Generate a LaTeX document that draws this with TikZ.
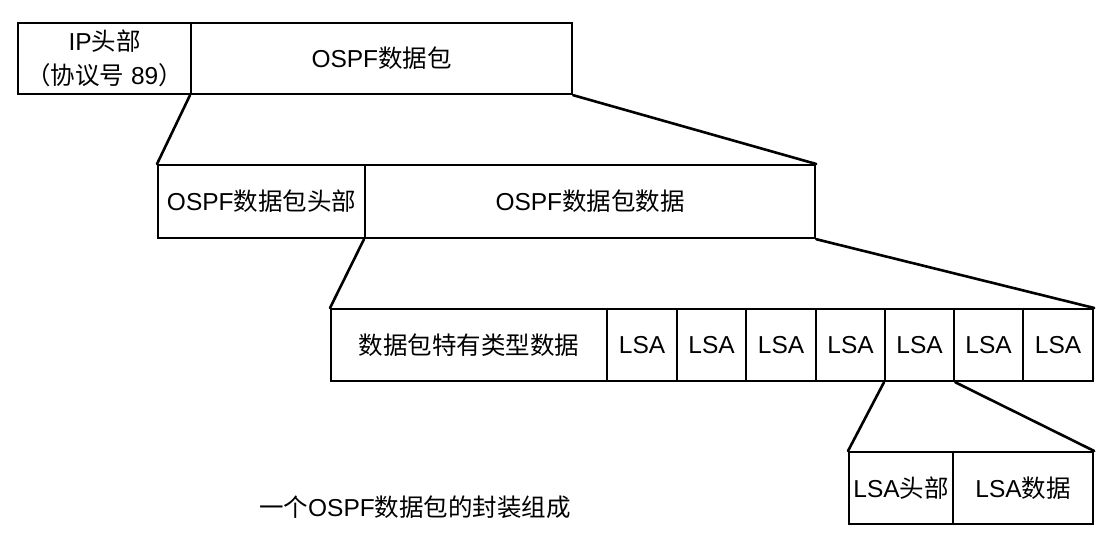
\documentclass[tikz,border=0pt]{standalone}
\usepackage{fontspec}
\setmainfont{Liberation Sans}
\newfontfamily\cjk{Noto Sans CJK SC}
\begin{document}
\begin{tikzpicture}[x=1pt,y=-1pt,
  box/.style={draw=black, line width=2.2pt, inner sep=0pt, anchor=north west, minimum height=71pt, font=\fontsize{24.5}{34}\selectfont, align=center},
  conn/.style={draw=black, line width=2.6pt, line cap=round}]
\useasboundingbox (0,0) rectangle (1117,546);
% row 1
\node[box, minimum width=173pt] (ip) at (17,22) {IP{\cjk 头部}\\{\cjk （协议号} 89{\cjk ）}};
\node[box, minimum width=381pt] (ospf) at (190,22) {OSPF{\cjk 数据包}};
% row 2
\node[box, minimum width=207pt, minimum height=73pt] (hdr) at (157,164) {OSPF{\cjk 数据包头部}};
\node[box, minimum width=450pt, minimum height=73pt] (data) at (364,164) {OSPF{\cjk 数据包数据}};
% row 3
\node[box, minimum width=276pt, minimum height=72pt] (spec) at (330,308) {\cjk 数据包特有类型数据};
\node[box, minimum width=70pt, minimum height=72pt] (l1) at (606,308) {LSA};
\node[box, minimum width=69pt, minimum height=72pt] (l2) at (676,308) {LSA};
\node[box, minimum width=70pt, minimum height=72pt] (l3) at (745,308) {LSA};
\node[box, minimum width=69pt, minimum height=72pt] (l4) at (815,308) {LSA};
\node[box, minimum width=69pt, minimum height=72pt] (l5) at (884,308) {LSA};
\node[box, minimum width=69pt, minimum height=72pt] (l6) at (953,308) {LSA};
\node[box, minimum width=70pt, minimum height=72pt] (l7) at (1022,308) {LSA};
% row 4
\node[box, minimum width=104pt, minimum height=72pt] (lh) at (848,451) {LSA{\cjk 头部}};
\node[box, minimum width=140pt, minimum height=72pt] (ld) at (952,451) {LSA{\cjk 数据}};
% connectors
\draw[conn] (ospf.south west) -- (hdr.north west);
\draw[conn] (ospf.south east) -- (data.north east);
\draw[conn] (data.south west) -- (spec.north west);
\draw[conn] (data.south east) -- (l7.north east);
\draw[conn] (l5.south west) -- (lh.north west);
\draw[conn] (l5.south east) -- (ld.north east);
% caption
\node[font=\fontsize{24.5}{30}\selectfont, inner sep=0pt] (cap) at (415,507) {{\cjk 一个}OSPF{\cjk 数据包的封装组成}};
\end{tikzpicture}
\end{document}
